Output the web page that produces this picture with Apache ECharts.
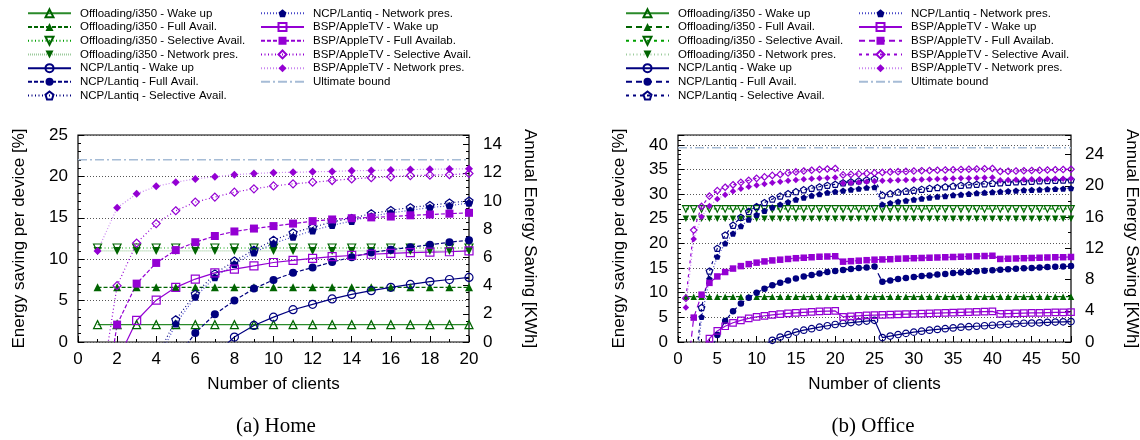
<!DOCTYPE html>
<html><head><meta charset="utf-8">
<script src="https://cdn.jsdelivr.net/npm/echarts@6/dist/echarts.min.js"></script>
<style>html,body{margin:0;padding:0;background:#fff}#c{width:1140px;height:440px}</style>
</head><body><div id="c"></div>
<script>
// ---------------- DATA ----------------
const seriesNames = [
  'Offloading/i350 - Wake up','Offloading/i350 - Full Avail.','Offloading/i350 - Selective Avail.','Offloading/i350 - Network pres.',
  'NCP/Lantiq - Wake up','NCP/Lantiq - Full Avail.','NCP/Lantiq - Selective Avail.','NCP/Lantiq - Network pres.',
  'BSP/AppleTV - Wake up','BSP/AppleTV - Full Availab.','BSP/AppleTV - Selective Avail.','BSP/AppleTV - Network pres.',
  'Ultimate bound'
];
const captions = ['(a) Home', '(b) Office'];

// Home: clients 1..20
const homeClients = [1,2,3,4,5,6,7,8,9,10,11,12,13,14,15,16,17,18,19,20];
const homeBoundX = [0, 20];
const homeOffWake = [2.1,2.1,2.1,2.1,2.1,2.1,2.1,2.1,2.1,2.1,2.1,2.1,2.1,2.1,2.1,2.1,2.1,2.1,2.1,2.1];
const homeOffFull = [6.6,6.6,6.6,6.6,6.6,6.6,6.6,6.6,6.6,6.6,6.6,6.6,6.6,6.6,6.6,6.6,6.6,6.6,6.6,6.6];
const homeOffSel  = [11.35,11.35,11.35,11.35,11.35,11.35,11.35,11.35,11.35,11.35,11.35,11.35,11.35,11.35,11.35,11.35,11.35,11.35,11.35,11.35];
const homeOffNet  = [11.0,11.0,11.0,11.0,11.0,11.0,11.0,11.0,11.0,11.0,11.0,11.0,11.0,11.0,11.0,11.0,11.0,11.0,11.0,11.0];
const homeNcpWake = [null,null,null,null,null,null,-1.5,0.6,2.0,3.0,3.9,4.55,5.2,5.75,6.2,6.6,6.95,7.3,7.55,7.8];
const homeNcpFull = [null,null,null,null,-2.1,1.1,3.35,5.0,6.45,7.5,8.35,9.0,9.65,10.25,10.8,11.15,11.45,11.75,12.05,12.3];
const homeNcpSel  = [null,null,null,-2.0,2.7,5.8,8.25,9.8,11.1,12.3,13.2,13.85,14.5,14.95,15.5,15.9,16.25,16.5,16.8,17.05];
const homeNcpNet  = [null,null,null,-2.7,2.2,5.45,7.8,9.4,10.8,11.9,12.7,13.45,14.1,14.6,15.2,15.6,15.9,16.25,16.45,16.8];
const homeBspWake = [null,-2.3,2.6,5.05,6.6,7.6,8.35,8.8,9.2,9.6,9.85,10.1,10.3,10.45,10.6,10.7,10.8,10.85,10.9,11.0];
const homeBspFull = [-12.9,2.1,7.05,9.55,11.1,12.05,12.8,13.35,13.7,14.0,14.3,14.6,14.8,14.95,15.05,15.15,15.3,15.4,15.5,15.6];
const homeBspSel  = [-8.2,6.8,11.95,14.3,15.85,16.9,17.5,18.1,18.5,18.85,19.1,19.3,19.5,19.7,19.85,19.95,20.1,20.15,20.2,20.35];
const homeBspNet  = [11.0,16.2,17.9,18.8,19.3,19.7,19.95,20.2,20.35,20.45,20.5,20.55,20.6,20.68,20.72,20.76,20.82,20.86,20.9,20.92];
const homeBound   = [22, 22];

// Office: clients 1..50
const officeClients = [1,2,3,4,5,6,7,8,9,10,11,12,13,14,15,16,17,18,19,20,21,22,23,24,25,26,27,28,29,30,31,32,33,34,35,36,37,38,39,40,41,42,43,44,45,46,47,48,49,50];
const officeBoundX = [0, 50];
const officeOffWake = [-2,-2,-2,-2,-2,-2,-2,-2,-2,-2,-2,-2,-2,-2,-2,-2,-2,-2,-2,-2,-2,-2,-2,-2,-2,-2,-2,-2,-2,-2,-2,-2,-2,-2,-2,-2,-2,-2,-2,-2,-2,-2,-2,-2,-2,-2,-2,-2,-2,-2];
const officeOffFull = [9.2,9.2,9.2,9.2,9.2,9.2,9.2,9.2,9.2,9.2,9.2,9.2,9.2,9.2,9.2,9.2,9.2,9.2,9.2,9.2,9.2,9.2,9.2,9.2,9.2,9.2,9.2,9.2,9.2,9.2,9.2,9.2,9.2,9.2,9.2,9.2,9.2,9.2,9.2,9.2,9.2,9.2,9.2,9.2,9.2,9.2,9.2,9.2,9.2,9.2];
const officeOffSel  = [27,27,27,27,27,27,27,27,27,27,27,27,27,27,27,27,27,27,27,27,27,27,27,27,27,27,27,27,27,27,27,27,27,27,27,27,27,27,27,27,27,27,27,27,27,27,27,27,27,27];
const officeOffNet  = [25,25,25,25,25,25,25,25,25,25,25,25,25,25,25,25,25,25,25,25,25,25,25,25,25,25,25,25,25,25,25,25,25,25,25,25,25,25,25,25,25,25,25,25,25,25,25,25,25,25];
const officeNcpWake = [null,null,null,null,null,null,null,null,null,null,-0.6,0.35,1.0,1.5,2.0,2.4,2.7,3.0,3.3,3.55,3.75,3.95,4.1,4.25,4.4,
  0.9,1.2,1.5,1.75,2.0,2.2,2.4,2.55,2.7,2.85,3.0,3.1,3.2,3.3,3.4,3.5,3.6,3.7,3.8,3.85,3.9,4.0,4.05,4.1,4.15];
const officeNcpFull = [null,null,null,-2.8,1.4,4.25,6.25,7.8,9.0,10.0,10.8,11.5,12.0,12.5,12.9,13.3,13.6,13.9,14.2,14.4,14.6,14.8,15.0,15.1,15.3,
  12.2,12.5,12.8,13.0,13.2,13.4,13.5,13.7,13.8,14.0,14.1,14.2,14.35,14.45,14.55,14.65,14.75,14.85,14.95,15.0,15.1,15.2,15.25,15.3,15.4];
const officeNcpSel  = [null,-8,7.0,14.4,19.0,21.7,23.7,25.3,26.5,27.5,28.3,29.0,29.6,30.1,30.5,30.9,31.2,31.5,31.8,32.0,32.3,32.5,32.7,32.9,33.1,
  29.8,30.1,30.4,30.6,30.8,31.0,31.2,31.35,31.5,31.65,31.8,31.9,32.0,32.1,32.2,32.3,32.4,32.5,32.55,32.6,32.7,32.75,32.8,32.85,32.9];
const officeNcpNet  = [null,-10,5.1,12.8,17.3,20.0,22.0,23.5,24.8,25.8,26.6,27.3,27.9,28.4,28.9,29.3,29.7,30.0,30.3,30.5,30.7,30.9,31.1,31.3,31.4,
  27.9,28.2,28.5,28.7,28.9,29.1,29.3,29.5,29.6,29.8,29.9,30.05,30.2,30.3,30.4,30.5,30.6,30.7,30.8,30.85,30.9,31.0,31.05,31.1,31.2];
const officeBspWake = [null,-5,-1.5,0.7,2.25,3.2,3.9,4.4,4.8,5.1,5.3,5.5,5.65,5.8,5.9,6.0,6.1,6.2,6.25,6.3,
  5.1,5.2,5.3,5.4,5.45,5.5,5.55,5.6,5.65,5.7,5.75,5.8,5.85,5.9,5.95,6.0,6.05,6.1,6.15,6.2,
  5.7,5.75,5.8,5.85,5.9,5.9,5.95,6.0,6.0,6.05];
const officeBspFull = [-9,4.95,9.6,12.0,13.3,14.2,14.9,15.4,15.8,16.1,16.35,16.55,16.7,16.85,17.0,17.1,17.2,17.3,17.35,17.4,
  16.3,16.4,16.5,16.6,16.7,16.75,16.8,16.9,16.95,17.0,17.05,17.1,17.15,17.2,17.25,17.3,17.35,17.4,17.45,17.5,
  16.85,16.9,16.95,17.0,17.05,17.1,17.15,17.2,17.2,17.25];
const officeBspSel  = [8.9,22.7,27.5,29.6,30.7,31.4,31.9,32.4,32.8,33.2,33.5,33.8,34.0,34.3,34.5,34.7,34.85,35.0,35.1,35.2,
  33.9,34.0,34.1,34.2,34.3,34.4,34.5,34.55,34.6,34.7,34.75,34.8,34.85,34.9,34.95,35.0,35.05,35.1,35.15,35.2,
  34.6,34.65,34.7,34.75,34.8,34.85,34.9,34.95,35.0,35.05];
const officeBspNet  = [7.0,20.9,25.4,27.6,29.0,29.9,30.6,31.1,31.5,31.8,32.05,32.3,32.5,32.7,32.85,33.0,33.1,33.2,33.3,33.4,
  32.2,32.3,32.4,32.5,32.6,32.7,32.75,32.8,32.85,32.9,32.95,33.0,33.05,33.1,33.15,33.2,33.25,33.3,33.35,33.4,
  32.8,32.85,32.9,32.95,33.0,33.0,33.05,33.1,33.1,33.15];
const officeBound   = [39.4, 39.4];

// ---------------- STYLES ----------------
const G = '#006400', GL = '#2a8a2a', GS = '#00a000', GN = '#9ccb9c';
const N = '#00007f', NN = '#4646c8';
const P = '#9400d3', PN = '#c987f0';
const B = '#a6bcd6';
const PENT = 'path://M0,-10L9.51,-3.09L5.88,8.09L-5.88,8.09L-9.51,-3.09Z';
const SANS = 'Liberation Sans';

function styles(dFull, dSel, dNet) {
  return [
    {symbol:'triangle', open:true, c:G, l:GL, t:'solid'},
    {symbol:'triangle', open:false, c:G, l:G, t:dFull},
    {symbol:'triangle', open:true, rot:180, c:G, l:GS, t:dSel},
    {symbol:'triangle', open:false, rot:180, c:G, l:GN, t:dNet},
    {symbol:'circle', open:true, c:N, l:N, t:'solid'},
    {symbol:'circle', open:false, c:N, l:N, t:dFull},
    {symbol:PENT, open:true, c:N, l:N, t:dSel},
    {symbol:PENT, open:false, c:N, l:NN, t:[1,2]},
    {symbol:'rect', open:true, c:P, l:P, t:'solid'},
    {symbol:'rect', open:false, c:P, l:P, t:dFull},
    {symbol:'diamond', open:true, c:P, l:P, t:dSel},
    {symbol:'diamond', open:false, c:P, l:PN, t:[1,2]},
    {symbol:'circle', bound:true, c:B, l:B, t:[9,3,2,3]}
  ];
}
const homeStyles = styles([4,2], [1,2.5], [1,1]);
const officeStyles = styles([6,4], [3,4], [1,2.5]);

function mkSeries(name, xs, ys, gi, st, size) {
  return {
    name, type:'line', xAxisIndex: gi, yAxisIndex: gi*2,
    data: xs.map((x,i) => [x, ys[i] == null ? '-' : ys[i]]),
    symbol: st.symbol, symbolSize: size, symbolRotate: st.rot || 0, symbolKeepAspect: true,
    showSymbol: !st.bound,
    itemStyle: st.bound ? {color:'rgba(0,0,0,0)'} :
      (st.open ? {color:'rgba(255,255,255,0)', borderColor: st.c, borderWidth: 1.2} : {color: st.c, borderWidth: 0}),
    lineStyle: {color: st.l, width: st.bound ? 1.5 : 1.2, type: st.t},
    clip: true, silent: true, animation: false, connectNulls: false
  };
}

const homeData = [homeOffWake,homeOffFull,homeOffSel,homeOffNet,homeNcpWake,homeNcpFull,homeNcpSel,homeNcpNet,homeBspWake,homeBspFull,homeBspSel,homeBspNet,homeBound];
const officeData = [officeOffWake,officeOffFull,officeOffSel,officeOffNet,officeNcpWake,officeNcpFull,officeNcpSel,officeNcpNet,officeBspWake,officeBspFull,officeBspSel,officeBspNet,officeBound];

const officeNames = seriesNames.map(n => n + ' ');
const series = [];
seriesNames.forEach((n, i) => series.push(mkSeries(n, i === 12 ? homeBoundX : homeClients, homeData[i], 0, homeStyles[i], 8)));
officeNames.forEach((n, i) => series.push(mkSeries(n, i === 12 ? officeBoundX : officeClients, officeData[i], 1, officeStyles[i], 6.5)));

function legend(names, left) {
  return {
    data: names, orient:'vertical', left, top: 6.5, padding: 0,
    itemWidth: 43, itemHeight: 10, itemGap: 0, selectedMode: false,
    textStyle: {fontFamily: SANS, fontSize: 11.5, color:'#000', lineHeight: 13.7, padding:[0,0,0,4]}
  };
}

const axisFont = {fontFamily: SANS, fontSize: 17, color: '#000'};
function xAxis(gi, max, interval, minorSplit) {
  return {
    type:'value', gridIndex: gi, min: 0, max, interval,
    name: 'Number of clients', nameLocation: 'middle', nameGap: 34, nameTextStyle: axisFont,
    axisLine: {show: false},
    axisTick: {show: true, inside: true, length: 6, lineStyle: {color:'#000'}},
    minorTick: {show: true, splitNumber: minorSplit, length: 3, lineStyle: {color:'#000'}},
    axisLabel: {...axisFont, margin: 9},
    splitLine: {show: false}
  };
}
function yLeft(gi, max, interval, minorSplit) {
  return {
    type:'value', gridIndex: gi, position:'left', min: 0, max, interval,
    name: 'Energy saving per device [%]', nameLocation:'middle', nameGap: 50, nameTextStyle: axisFont,
    axisLine: {show: false},
    axisTick: {show: true, inside: true, length: 6, lineStyle: {color:'#000'}},
    minorTick: {show: true, splitNumber: minorSplit, length: 3, lineStyle: {color:'#000'}},
    axisLabel: {...axisFont, margin: 10, formatter: v => (Math.abs(v / interval - Math.round(v / interval)) < 1e-6 ? String(v) : '')},
    splitLine: {show: true, lineStyle: {color:'#555', type:[1,2], width: 1}}
  };
}
function yRight(gi, max, interval, minorSplit) {
  return {
    type:'value', gridIndex: gi, position:'right', min: 0, max, interval,
    name: 'Annual Energy Saving [KWh]', nameLocation:'middle', nameGap: 52, nameRotate: -90, nameTextStyle: axisFont,
    axisLine: {show: false},
    axisTick: {show: true, inside: true, length: 6, lineStyle: {color:'#000'}},
    minorTick: {show: true, splitNumber: minorSplit, length: 3, lineStyle: {color:'#000'}},
    axisLabel: {...axisFont, margin: 14, formatter: v => (Math.abs(v / interval - Math.round(v / interval)) < 1e-6 ? String(v) : '')},
    splitLine: {show: false}
  };
}

const chart = echarts.init(document.getElementById('c'), null, {renderer: 'canvas'});
chart.setOption({
  animation: false,
  backgroundColor: '#fff',
  grid: [
    {left: 78, top: 135, width: 391, height: 207, show: true, borderColor: '#000', borderWidth: 1.2, backgroundColor: 'transparent', containLabel: false, outerBoundsMode: 'none'},
    {left: 678, top: 135, width: 393, height: 207, show: true, borderColor: '#000', borderWidth: 1.2, backgroundColor: 'transparent', containLabel: false, outerBoundsMode: 'none'}
  ],
  legend: [
    legend(seriesNames.slice(0, 7), 27),
    legend(seriesNames.slice(7), 260),
    legend(officeNames.slice(0, 7), 625),
    legend(officeNames.slice(7), 858)
  ],
  xAxis: [xAxis(0, 20, 2, 2), xAxis(1, 50, 5, 5)],
  yAxis: [yLeft(0, 25, 5, 5), yRight(0, 14.68, 2, 4), yLeft(1, 42, 5, 5), yRight(1, 26.5, 4, 2)],
  series,
  graphic: [
    {type:'text', x: 276, y: 426, style: {text: captions[0], textAlign:'center', textVerticalAlign:'middle', font: '21px "Liberation Serif"', fill:'#000'}},
    {type:'text', x: 873, y: 426, style: {text: captions[1], textAlign:'center', textVerticalAlign:'middle', font: '21px "Liberation Serif"', fill:'#000'}}
  ]
});
</script>
</body></html>
